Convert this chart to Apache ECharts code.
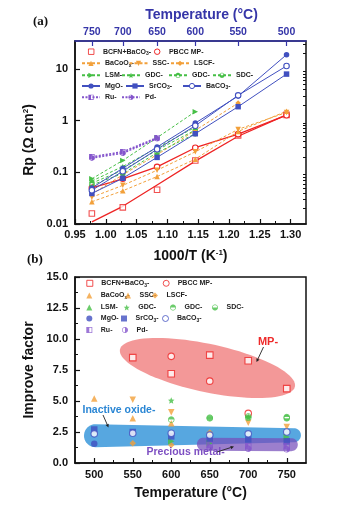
<!DOCTYPE html>
<html>
<head>
<meta charset="utf-8">
<title>Rp and improve factor</title>
<script src="https://cdn.jsdelivr.net/npm/echarts@6/dist/echarts.min.js"></script>
<style>
    html, body { margin: 0; padding: 0; background: #fff; }
    #chart { width: 349px; height: 505px; }
</style>
</head>
<body>
<div id="chart"></div>
<script>
// Measurement temperatures (°C)
const tempsA = [750, 700, 650, 600, 550, 500];
const tempsB = [500, 550, 600, 650, 700, 750];

// Tick labels
const invTTicks = [0.95, 1.00, 1.05, 1.10, 1.15, 1.20, 1.25, 1.30];
const rpTicks = [0.01, 0.1, 1, 10];
const tempTicks = [500, 550, 600, 650, 700, 750];

// Panel (a): Rp (ohm cm2), ordered like tempsA
const rpBCFN = [0.016, 0.021, 0.046, 0.17, 0.52, 1.3];
const rpBCFNLine = [0.011, 0.022, 0.057, 0.165, 0.5, 1.3];
const rpPBCC = [0.05, 0.075, 0.128, 0.3, 0.55, 1.28];
const rpBaCoOx = [0.027, 0.044, 0.083, 0.18, 0.62, 1.53];
const rpSSC = [0.033, 0.056, 0.11, 0.25, 0.68, 1.45];
const rpLSCF = [0.038, 0.09, 0.22, 0.65, 2.2, null];
const rpLSM = [0.075, 0.17, 0.47, 1.5, null, null];
const rpGDC1 = [0.068, 0.13, 0.3, 0.75, null, null];
const rpGDC2 = [0.062, 0.11, 0.27, 0.66, null, null];
const rpSDC = [0.057, 0.095, 0.24, 0.56, null, null];
const rpMgO = [0.05, 0.12, 0.31, 0.9, 3.0, 19];
const rpSrCO3 = [0.039, 0.077, 0.195, 0.56, 1.87, 8.0];
const rpBaCO3 = [0.045, 0.105, 0.28, 0.8, 3.1, 11.5];
const rpRu = [0.2, 0.25, 0.47, null, null, null];
const rpPd = [0.19, 0.235, 0.45, null, null, null];

// Panel (b): improve factor, ordered like tempsB
const ifBCFN = [null, 8.5, 7.2, 8.7, 8.25, 6.0];
const ifPBCC = [null, null, 8.6, 6.6, 4.0, null];
const ifBaCoOx = [5.2, 3.6, 3.2, null, null, null];
const ifSSC = [null, 5.1, 4.1, null, 3.25, 2.9];
const ifLSCF = [null, 1.6, 1.45, 2.45, null, null];
const ifLSM = [null, null, 1.75, 1.6, null, 2.1];
const ifGDC1 = [null, null, 5.05, null, 3.7, null];
const ifGDC2 = [null, null, 3.5, 3.6, 3.65, 3.7];
const ifSDC = [null, null, null, 3.65, 3.75, 3.6];
const ifMgO = [1.55, null, null, null, null, null];
const ifSrCO3 = [2.7, 2.5, 2.15, 1.95, 1.9, 1.75];
const ifBaCO3 = [2.35, 2.4, 2.4, 2.25, 2.35, 2.5];
const ifRu = [null, null, null, 1.45, 1.35, 1.35];
const ifPd = [null, null, null, 1.25, 1.15, 1.1];

(function () {
    'use strict';

    const chart = echarts.init(document.getElementById('chart'), null, { renderer: 'canvas' });

    const FONT = '"Liberation Sans", Arial, sans-serif';
    const INK = '#111';
    const TOP_BLUE = '#3535a8';
    const RED = '#ee2424';
    const ORANGE = '#f2a03a';
    const GREEN = '#46bf46';
    const BLUE = '#4150c0';
    const PURPLE = '#8455cc';

    // Marker paths: ring with one half filled, drawn as polygons
    // (outer clockwise, inner counter-clockwise, half clockwise)
    const arcPts = (r, a0, a1, n) => {
        const out = [];
        for (let k = 0; k <= n; k++) {
            const a = a0 + (a1 - a0) * k / n;
            out.push((10 + r * Math.cos(a)).toFixed(2) + ',' + (10 + r * Math.sin(a)).toFixed(2));
        }
        return out;
    };
    const poly = pts => 'M' + pts.join('L') + 'Z';
    const halfRing = (a0) => 'path://' +
        poly(arcPts(10, 0, Math.PI * 2, 32)) +
        poly(arcPts(7.8, Math.PI * 2, 0, 32)) +
        poly(arcPts(7.8, a0, a0 + Math.PI, 16));
    const HALF_TOP = halfRing(Math.PI);
    const HALF_BOTTOM = halfRing(0);
    const HALF_RIGHT = halfRing(-Math.PI / 2);
    const HALF_SQUARE = 'path://M0,0H20V20H0ZM2.5,2.5V17.5H17.5V2.5ZM2.5,2.5H10V17.5H2.5Z';
    const STAR = 'path://M10,0L12.9,6.9L20,7.6L14.6,12.4L16.2,19.5L10,15.8L3.8,19.5L5.4,12.4L0,7.6L7.1,6.9Z';

    // Series look and legend text
    const marks = {
        BCFN: { label: 'BCFN+BaCO{sub|3}-', color: RED, symbol: 'rect', hollow: true },
        PBCC: { label: 'PBCC MP-', color: RED, symbol: 'circle', hollow: true, line: 'solid', width: 1.3 },
        BaCoOx: { label: 'BaCoO{sub|x}-', color: ORANGE, symbol: 'triangle', line: [3, 2] },
        SSC: { label: 'SSC-', color: ORANGE, symbol: 'triangle', rotate: 180, line: [3, 2] },
        LSCF: { label: 'LSCF-', color: ORANGE, symbol: 'diamond', line: [3, 2] },
        LSM: { label: 'LSM-', color: GREEN, symbol: 'triangle', rotate: -90, line: [3, 2] },
        GDC1: { label: 'GDC-', color: GREEN, symbol: STAR, line: [3, 2] },
        GDC2: { label: 'GDC-', color: GREEN, symbol: HALF_TOP, line: [3, 2] },
        SDC: { label: 'SDC-', color: GREEN, symbol: HALF_BOTTOM, line: [3, 2] },
        MgO: { label: 'MgO-', color: BLUE, symbol: 'circle', line: 'solid' },
        SrCO3: { label: 'SrCO{sub|3}-', color: BLUE, symbol: 'rect', line: 'solid' },
        BaCO3: { label: 'BaCO{sub|3}-', color: BLUE, symbol: 'circle', hollow: true, line: 'solid' },
        Ru: { label: 'Ru-', color: PURPLE, symbol: HALF_SQUARE, line: [2, 1.5], width: 1.6 },
        Pd: { label: 'Pd-', color: PURPLE, symbol: HALF_RIGHT, line: [2, 1.5], width: 1.6 }
    };

    const rpValues = {
        BCFN: rpBCFN, PBCC: rpPBCC, BaCoOx: rpBaCoOx, SSC: rpSSC, LSCF: rpLSCF,
        LSM: rpLSM, GDC1: rpGDC1, GDC2: rpGDC2, SDC: rpSDC,
        MgO: rpMgO, SrCO3: rpSrCO3, BaCO3: rpBaCO3, Ru: rpRu, Pd: rpPd
    };
    const ifValues = {
        BCFN: ifBCFN, PBCC: ifPBCC, BaCoOx: ifBaCoOx, SSC: ifSSC, LSCF: ifLSCF,
        LSM: ifLSM, GDC1: ifGDC1, GDC2: ifGDC2, SDC: ifSDC,
        MgO: ifMgO, SrCO3: ifSrCO3, BaCO3: ifBaCO3, Ru: ifRu, Pd: ifPd
    };

    // Legend placement: [key, icon centre x, row centre y]
    const legendLayoutA = [
        ['BCFN', 90.7, 51.7], ['PBCC', 156.7, 51.7],
        ['BaCoOx', 90, 63.3], ['SSC', 137.5, 63.3], ['LSCF', 179, 63.3],
        ['LSM', 90, 75.3], ['GDC1', 130, 75.3], ['GDC2', 177, 75.3], ['SDC', 221, 75.3],
        ['MgO', 90, 86], ['SrCO3', 134, 86], ['BaCO3', 191, 86],
        ['Ru', 90, 97.3], ['Pd', 130, 97.3]
    ];
    const legendLayoutB = [
        ['BCFN', 89.3, 283.3], ['PBCC', 165.7, 283.3],
        ['BaCoOx', 89.3, 295.5], ['SSC', 128, 295.5], ['LSCF', 155, 295.5],
        ['LSM', 89.3, 307.5], ['GDC1', 126.7, 307.5], ['GDC2', 173, 307.5], ['SDC', 215, 307.5],
        ['MgO', 89.3, 318.5], ['SrCO3', 124, 318.5], ['BaCO3', 165, 318.5],
        ['Ru', 89.3, 330], ['Pd', 125, 330]
    ];

    // Shaded groups in panel (b), in data units
    const regions = [
        { kind: 'capsule', ends: [[501.6, 2.2], [759.3, 2.24]], radii: [11.5, 7], color: 'rgba(58,152,218,0.85)' },
        { kind: 'capsule', ends: [[641.8, 1.52], [755.9, 1.48]], radii: [6.5, 6.5], color: 'rgba(118,78,186,0.72)' },
        { kind: 'ellipse', center: [647, 7.66], u: [113.6, -1.5], v: [-6.5, -1.9], color: 'rgba(238,112,112,0.72)' }
    ];

    const invT = t => 1000 / (t + 273.15);

    const utils = {
        points: (xs, ys) => xs.map((x, i) => [x, ys[i]]).filter(p => p[1] != null),

        label: name => marks[name.split(':')[1]].label,

        symbolStyle: (m) => m.hollow
            ? { color: '#fff', borderColor: m.color, borderWidth: 1.1 }
            : { color: m.color, borderWidth: 0 },

        arrow: (x1, y1, x2, y2) => {
            const a = Math.atan2(y2 - y1, x2 - x1);
            const bx = x2 - 3.4 * Math.cos(a);
            const by = y2 - 3.4 * Math.sin(a);
            const w = 1.7;
            return [
                { type: 'line', z: 20, shape: { x1: x1, y1: y1, x2: bx, y2: by }, style: { stroke: '#222', lineWidth: 0.9 } },
                {
                    type: 'polygon', z: 20,
                    shape: { points: [[x2, y2], [bx + w * Math.sin(a), by - w * Math.cos(a)], [bx - w * Math.sin(a), by + w * Math.cos(a)]] },
                    style: { fill: '#222' }
                }
            ];
        },

        text: (text, x, y, color, font, align) => ({
            type: 'text', z: 20,
            style: {
                text: text, x: x, y: y, fill: color, font: font,
                align: align, textAlign: align, verticalAlign: 'middle', textVerticalAlign: 'middle'
            }
        })
    };

    const tickLabel = { fontFamily: FONT, fontSize: 11, fontWeight: 'bold', color: INK };
    const axisName = {
        fontFamily: FONT, fontSize: 14, fontWeight: 'bold', color: INK,
        rich: { sup: { fontFamily: FONT, fontSize: 8, fontWeight: 'bold', verticalAlign: 'top', color: INK } }
    };
    const legendText = (padLeft) => ({
        fontFamily: FONT, fontSize: 7, fontWeight: 'bold', color: '#222', lineHeight: 9,
        padding: [0, 0, 0, padLeft],
        rich: { sub: { fontFamily: FONT, fontSize: 5, fontWeight: 'bold', color: '#222', verticalAlign: 'bottom', lineHeight: 9, padding: [3, 0, 0, 0] } }
    });

    // Axes
    const hiddenMinor = (extra) => Object.assign({
        axisLine: { show: false },
        axisLabel: { show: false },
        splitLine: { show: false }
    }, extra);

    const xAxes = [
        {
            gridIndex: 0, type: 'value', position: 'bottom', min: 0.95, max: 1.325,
            name: '1000/T (K{sup|-1})', nameLocation: 'middle', nameGap: 25, nameTextStyle: axisName,
            axisLine: { lineStyle: { color: INK, width: 1.5 } },
            axisTick: { inside: true, length: 5, customValues: invTTicks, lineStyle: { color: INK, width: 1.2 } },
            axisLabel: Object.assign({ customValues: invTTicks, margin: 5, formatter: v => v.toFixed(2) }, tickLabel),
            splitLine: { show: false }
        },
        hiddenMinor({
            gridIndex: 0, type: 'value', position: 'bottom', min: 0.95, max: 1.325,
            axisTick: { inside: true, length: 3, customValues: invTTicks.map(v => v + 0.025).filter(v => v < 1.32), lineStyle: { color: INK, width: 1 } }
        }),
        {
            gridIndex: 0, type: 'value', position: 'top', min: 0.95, max: 1.325,
            name: 'Temperature (°C)', nameLocation: 'middle', nameGap: 19,
            nameTextStyle: Object.assign({}, axisName, { color: TOP_BLUE, padding: [0, 0, 0, 22] }),
            axisLine: { lineStyle: { color: TOP_BLUE, width: 1.5 } },
            axisTick: { inside: true, length: 5, customValues: tempsA.map(invT), lineStyle: { color: TOP_BLUE, width: 1.2 } },
            axisLabel: Object.assign({}, tickLabel, {
                customValues: tempsA.map(invT), margin: 3, fontSize: 10.5, color: TOP_BLUE,
                formatter: v => String(Math.round(1000 / v - 273.15))
            }),
            splitLine: { show: false }
        },
        {
            gridIndex: 1, type: 'value', position: 'bottom', min: 475, max: 775,
            name: 'Temperature (°C)', nameLocation: 'middle', nameGap: 23, nameTextStyle: axisName,
            axisLine: { lineStyle: { color: INK, width: 1.5 } },
            axisTick: { inside: true, length: 5, customValues: tempTicks, lineStyle: { color: INK, width: 1.2 } },
            axisLabel: Object.assign({ customValues: tempTicks, margin: 6 }, tickLabel),
            splitLine: { show: false }
        },
        hiddenMinor({
            gridIndex: 1, type: 'value', position: 'bottom', min: 475, max: 775,
            axisTick: { inside: true, length: 3, customValues: tempTicks.map(v => v + 25).slice(0, 5), lineStyle: { color: INK, width: 1 } }
        })
    ];

    const rpMinor = [];
    rpTicks.forEach(d => {
        for (let k = 2; k <= 9; k++) {
            if (d * k < 35) rpMinor.push(d * k);
        }
    });

    const yAxes = [
        {
            gridIndex: 0, type: 'log', logBase: 10, min: 0.01, max: 35,
            name: 'Rp (Ω cm{sup|2})', nameLocation: 'middle', nameGap: 27,
            nameTextStyle: Object.assign({}, axisName, { padding: [0, 15, 0, 0] }),
            axisLine: { lineStyle: { color: INK, width: 1.5 } },
            axisTick: { inside: true, length: 5, customValues: rpTicks, lineStyle: { color: INK, width: 1.2 } },
            axisLabel: Object.assign({ customValues: rpTicks, margin: 7, formatter: v => String(v) }, tickLabel),
            splitLine: { show: false }
        },
        hiddenMinor({
            gridIndex: 0, type: 'log', logBase: 10, min: 0.01, max: 35,
            axisTick: { inside: true, length: 3, customValues: rpMinor, lineStyle: { color: INK, width: 1 } }
        }),
        {
            gridIndex: 1, type: 'value', min: 0, max: 15, interval: 2.5,
            name: 'Improve factor', nameLocation: 'middle', nameGap: 31, nameTextStyle: axisName,
            axisLine: { lineStyle: { color: INK, width: 1.5 } },
            axisTick: { inside: true, length: 5, lineStyle: { color: INK, width: 1.2 } },
            minorTick: { show: true, splitNumber: 2, length: 3, lineStyle: { color: INK, width: 1 } },
            axisLabel: Object.assign({ margin: 7, formatter: v => v.toFixed(1) }, tickLabel),
            splitLine: { show: false }
        }
    ];

    // Series
    const seriesList = [];
    const xA = tempsA.map(invT);

    seriesList.push({
        name: 'a:fit', type: 'line', xAxisIndex: 0, yAxisIndex: 0,
        data: utils.points(xA, rpBCFNLine), symbol: 'none', z: 2,
        lineStyle: { color: RED, width: 1.3 }
    });

    Object.keys(marks).forEach(key => {
        const m = marks[key];
        const base = {
            name: 'a:' + key, xAxisIndex: 0, yAxisIndex: 0, z: 3,
            data: utils.points(xA, rpValues[key]),
            symbol: m.symbol, symbolSize: 5.5, symbolRotate: m.rotate || 0,
            itemStyle: utils.symbolStyle(m)
        };
        if (m.line) {
            seriesList.push(Object.assign(base, {
                type: 'line',
                lineStyle: { color: m.color, width: m.width || 1, type: m.line }
            }));
        } else {
            seriesList.push(Object.assign(base, { type: 'scatter' }));
        }
    });

    seriesList.push({
        name: 'b:regions', type: 'custom', xAxisIndex: 3, yAxisIndex: 2, z: 1, silent: true,
        data: regions.map(r => (r.kind === 'ellipse' ? r.center : r.ends[0])),
        renderItem: (params, api) => {
            const r = regions[params.dataIndex];
            const pts = [];
            if (r.kind === 'ellipse') {
                for (let k = 0; k < 90; k++) {
                    const t = k / 90 * Math.PI * 2;
                    pts.push(api.coord([
                        r.center[0] + r.u[0] * Math.cos(t) + r.v[0] * Math.sin(t),
                        r.center[1] + r.u[1] * Math.cos(t) + r.v[1] * Math.sin(t)
                    ]));
                }
            } else {
                const p1 = api.coord(r.ends[0]);
                const p2 = api.coord(r.ends[1]);
                const th = Math.atan2(p2[1] - p1[1], p2[0] - p1[0]);
                for (let k = 0; k <= 20; k++) {
                    const a = th + Math.PI / 2 + k / 20 * Math.PI;
                    pts.push([p1[0] + r.radii[0] * Math.cos(a), p1[1] + r.radii[0] * Math.sin(a)]);
                }
                for (let k = 0; k <= 20; k++) {
                    const a = th - Math.PI / 2 + k / 20 * Math.PI;
                    pts.push([p2[0] + r.radii[1] * Math.cos(a), p2[1] + r.radii[1] * Math.sin(a)]);
                }
            }
            return { type: 'polygon', shape: { points: pts }, style: { fill: r.color } };
        }
    });

    Object.keys(marks).forEach(key => {
        const m = marks[key];
        seriesList.push({
            name: 'b:' + key, type: 'scatter', xAxisIndex: 3, yAxisIndex: 2, z: 3,
            data: utils.points(tempsB, ifValues[key]),
            symbol: m.symbol, symbolSize: 6.5, symbolRotate: m.rotate || 0,
            itemStyle: utils.symbolStyle(m)
        });
    });

    // Legends, one per entry so each sits where the original has it
    const legends = [];
    const legendIconStyle = m => (m.hollow ? { borderWidth: 1 } : { borderWidth: 0 });

    legendLayoutA.forEach(([key, cx, cy]) => {
        const m = marks[key];
        const iconOnly = !m.line || key === 'PBCC';
        const item = { name: 'a:' + key, itemStyle: legendIconStyle(m) };
        if (iconOnly) {
            item.icon = m.symbol;
            item.symbolRotate = m.rotate || 0;
        }
        const w = iconOnly ? 5.5 : 18;
        legends.push({
            left: cx - w / 2, top: cy - 4.5, padding: 0, itemGap: 0,
            itemWidth: w, itemHeight: iconOnly ? 5.5 : 6.5,
            selectedMode: false, data: [item],
            formatter: utils.label, textStyle: legendText(iconOnly ? 4 : 0)
        });
    });
    legendLayoutB.forEach(([key, cx, cy]) => {
        const m = marks[key];
        legends.push({
            left: cx - 3, top: cy - 4.5, padding: 0, itemGap: 0,
            itemWidth: 6, itemHeight: 6,
            selectedMode: false,
            data: [{ name: 'b:' + key, itemStyle: legendIconStyle(m), symbolRotate: m.rotate || 0 }],
            formatter: utils.label, textStyle: legendText(3.5)
        });
    });

    // Panel letters and group labels
    const graphics = [
        utils.text('(a)', 33, 21.5, '#111', 'bold 13px "Liberation Serif", serif', 'left'),
        utils.text('(b)', 27, 259.5, '#111', 'bold 13px "Liberation Serif", serif', 'left'),
        utils.text('MP-', 268, 342, '#ee2a2a', 'bold 11px ' + FONT, 'center'),
        utils.text('Inactive oxide-', 82.5, 410, '#2a86d4', 'bold 10.5px ' + FONT, 'left'),
        utils.text('Precious metal-', 146.5, 452.5, '#7d4fc2', 'bold 10.5px ' + FONT, 'left')
    ].concat(
        utils.arrow(263.5, 347, 256.5, 362),
        utils.arrow(103, 415, 108.5, 427.5),
        utils.arrow(217, 452, 234, 446.5)
    );

    chart.setOption({
        animation: false,
        backgroundColor: '#fff',
        grid: [
            { left: 75, top: 41, width: 231, height: 183, show: true, borderColor: INK, borderWidth: 1.5 },
            { left: 75, top: 277, width: 231, height: 186, show: true, borderColor: INK, borderWidth: 1.5 }
        ],
        xAxis: xAxes,
        yAxis: yAxes,
        legend: legends,
        series: seriesList,
        graphic: graphics
    });
})();
</script>
</body>
</html>
